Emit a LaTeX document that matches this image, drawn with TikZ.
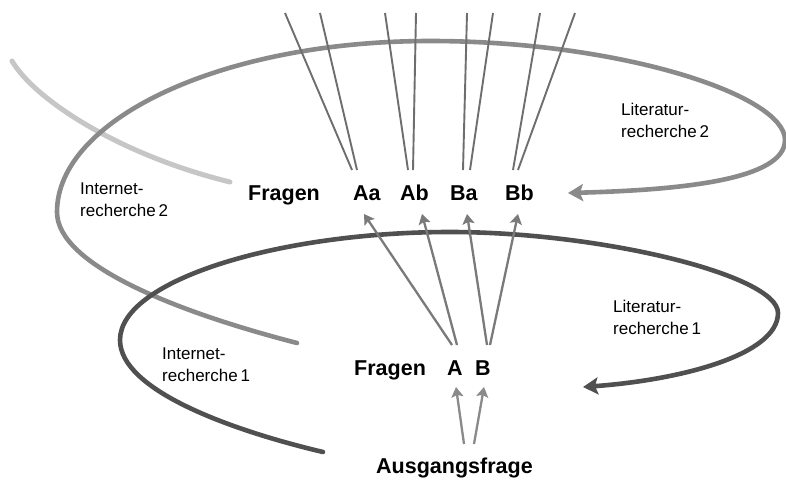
\documentclass[tikz,border=0pt]{standalone}
\usepackage{fontspec}
\setmainfont{Liberation Sans}
\usetikzlibrary{arrows.meta}
\definecolor{cLight}{HTML}{C6C6C6}
\definecolor{cMid}{HTML}{8A8A8A}
\definecolor{cDark}{HTML}{505050}
\definecolor{cLine}{HTML}{6E6E6E}
\definecolor{cArr}{HTML}{7A7A7A}
\tikzset{
  lab/.style={font=\fontsize{17}{21.5}\selectfont, align=left, anchor=north west, inner sep=0pt},
  qbox/.style={font=\fontsize{21.5}{24}\selectfont\bfseries, anchor=base west, inner sep=0pt},
  ray/.style={draw=cLine, line width=1.9pt},
  uparr/.style={draw=cArr, line width=2.3pt, -{Stealth[length=10pt,width=12pt,inset=2pt]}},
  loop/.style={line width=4.6pt, line cap=round, -{Stealth[length=15pt,width=17pt,inset=3pt]}},
}
\begin{document}
\begin{tikzpicture}[x=1pt,y=-1pt]
\useasboundingbox (0,0) rectangle (786,479);
\fill[white] (0,0) rectangle (786,479);

% light curve (tail of upper spiral)
\draw[cLight, line width=5pt, line cap=round] (12,61) .. controls (35,100) and (120,155) .. (230,182);

% upper spiral (Internet-/Literaturrecherche 2)
\draw[cMid, loop] (297,343) .. controls (177,312) and (57,265) .. (57,212)
  .. controls (57,120) and (220,41) .. (430,41)
  .. controls (620,41) and (785,95) .. (785,140)
  .. controls (785,180) and (680,190) .. (568,193);

% lower spiral (Internet-/Literaturrecherche 1)
\draw[cDark, loop] (323,452) .. controls (230,430) and (120,390) .. (120,340)
  .. controls (120,280) and (280,232) .. (450,232)
  .. controls (600,232) and (778,275) .. (778,313)
  .. controls (778,355) and (680,380) .. (583,387);

% text nodes
\node[qbox] (F2) at (248,200) {Fragen};
\node[qbox] (Aa) at (353,200) {Aa};
\node[qbox] (Ab) at (400,200) {Ab};
\node[qbox] (Ba) at (450,200) {Ba};
\node[qbox] (Bb) at (505,200) {Bb};
\node[qbox] (F1) at (354,375) {Fragen};
\node[qbox] (A) at (447,375) {A};
\node[qbox] (B) at (475,375) {B};
\node[qbox] (Q) at (376,473) {Ausgangsfrage};

\node[lab] (IR2) at (80,183) {Internet-\\recherche\,2};
\node[lab] (LR2) at (621,103) {Literatur-\\recherche\,2};
\node[lab] (IR1) at (162,348) {Internet-\\recherche\,1};
\node[lab] (LR1) at (613,300) {Literatur-\\recherche\,1};

% rays from the top down to Aa..Bb
\coordinate (t1) at (285,13); \coordinate (e1) at (352,170);
\coordinate (t2) at (320,13); \coordinate (e2) at (357,170);
\coordinate (t3) at (385,13); \coordinate (e3) at (408,170);
\coordinate (t4) at (416,13); \coordinate (e4) at (413,170);
\coordinate (t5) at (467,13); \coordinate (e5) at (463,170);
\coordinate (t6) at (493,13); \coordinate (e6) at (470,170);
\coordinate (t7) at (540,13); \coordinate (e7) at (513,170);
\coordinate (t8) at (575,13); \coordinate (e8) at (518,170);
\foreach \i in {1,...,8} \draw[ray] (t\i) -- (e\i);

% arrows from A, B up to Aa..Bb
\coordinate (sA1) at (452,345); \coordinate (hAa) at (364,214);
\coordinate (sA2) at (457,345); \coordinate (hAb) at (422,214);
\coordinate (sB1) at (487,345); \coordinate (hBa) at (467,214);
\coordinate (sB2) at (490,345); \coordinate (hBb) at (518,214);
\draw[uparr] (sA1) -- (hAa);
\draw[uparr] (sA2) -- (hAb);
\draw[uparr] (sB1) -- (hBa);
\draw[uparr] (sB2) -- (hBb);

% arrows from Ausgangsfrage up to A, B
\coordinate (q1) at (464,444); \coordinate (hA) at (456,387);
\coordinate (q2) at (474,444); \coordinate (hB) at (484,387);
\draw[uparr, draw=cMid] (q1) -- (hA);
\draw[uparr, draw=cMid] (q2) -- (hB);
\end{tikzpicture}
\end{document}
